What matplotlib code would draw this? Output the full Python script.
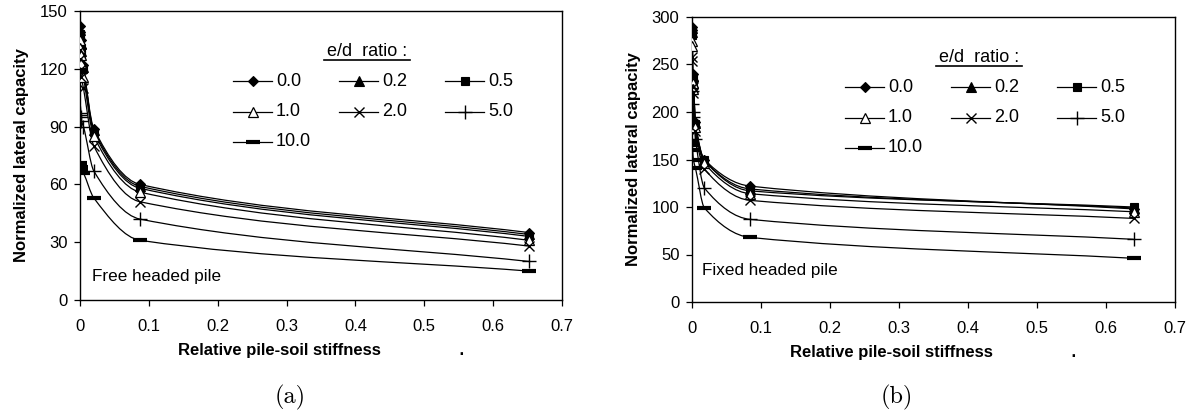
import numpy as np
import matplotlib
matplotlib.use('Agg')
import matplotlib.pyplot as plt
from matplotlib.path import Path
from matplotlib.patches import PathPatch
from matplotlib.lines import Line2D

plt.rcParams['font.family'] = ['Liberation Sans', 'DejaVu Sans']

# ---------------- data ----------------
ed_labels = ['0.0', '0.2', '0.5', '1.0', '2.0', '5.0', '10.0']

# (a) free headed pile
x_free = [0.0, 0.0005, 0.001, 0.002, 0.005, 0.02, 0.087, 0.652]
free_00 = [142, 139, 135, 131, 122, 89, 60, 35]
free_02 = [140, 137, 133, 129, 121, 88, 59, 34]
free_05 = [138, 135, 131, 127, 120, 87, 58, 33]
free_10 = [135, 131, 127, 123, 116, 85, 56, 31]
free_20 = [130, 125, 120, 116, 110, 80, 51, 28]
free_50 = [97, 96, 95, 93, 90, 67, 42, 20]
free_100 = [71, 70, 69, 68, 66, 53, 31, 15]

# (b) fixed headed pile
x_fixed = [0.0, 0.0005, 0.001, 0.002, 0.005, 0.018, 0.084, 0.64]
fixed_00 = [290, 286, 240, 233, 189, 150, 122, 98]
fixed_02 = [288, 284, 238, 231, 188, 149, 119, 99]
fixed_05 = [285, 281, 236, 229, 187, 149, 117, 100]
fixed_10 = [275, 270, 231, 224, 184, 146, 114, 95]
fixed_20 = [258, 254, 226, 220, 180, 140, 107, 88]
fixed_50 = [222, 208, 200, 195, 172, 120, 87, 66]
fixed_100 = [170, 165, 160, 150, 141, 99, 68, 46]

x_ticks = [0, 0.1, 0.2, 0.3, 0.4, 0.5, 0.6, 0.7]
x_tick_labels = ['0', '0.1', '0.2', '0.3', '0.4', '0.5', '0.6', '0.7']
y_ticks_free = [0, 30, 60, 90, 120, 150]
y_ticks_fixed = [0, 50, 100, 150, 200, 250, 300]

free_series = [free_00, free_02, free_05, free_10, free_20, free_50, free_100]
fixed_series = [fixed_00, fixed_02, fixed_05, fixed_10, fixed_20, fixed_50, fixed_100]

# ---------------- styles ----------------
styles = {
    '0.0': dict(marker='D', ms=5.5, mfc='k', mec='k', mew=0.8),
    '0.2': dict(marker='^', ms=6.5, mfc='k', mec='k', mew=0.8),
    '0.5': dict(marker='s', ms=5.5, mfc='k', mec='k', mew=0.8),
    '1.0': dict(marker='^', ms=6.5, mfc='white', mec='k', mew=0.9),
    '2.0': dict(marker='x', ms=7, mfc='k', mec='k', mew=1.0),
    '5.0': dict(marker='+', ms=10, mfc='k', mec='k', mew=1.0),
    '10.0': dict(marker='_', ms=10, mfc='k', mec='k', mew=3.0),
}


def tangent_slopes(x, y):
    x = np.asarray(x, float)
    y = np.asarray(y, float)
    d = np.diff(y) / np.diff(x)
    n = len(x)
    m = np.zeros(n)
    for k in range(1, n - 1):
        if d[k - 1] * d[k] > 0:
            m[k] = 2.0 / (1.0 / d[k - 1] + 1.0 / d[k])
    m[0] = d[0]
    m[-1] = d[-1]
    return m


def smooth_path(x, y):
    """Smooth line through the data points, drawn as cubic Bezier segments."""
    x = np.asarray(x, float)
    y = np.asarray(y, float)
    m = tangent_slopes(x, y)
    verts = [(x[0], y[0])]
    codes = [Path.MOVETO]
    for i in range(len(x) - 1):
        h = x[i + 1] - x[i]
        verts += [(x[i] + h / 3, y[i] + m[i] * h / 3),
                  (x[i + 1] - h / 3, y[i + 1] - m[i + 1] * h / 3),
                  (x[i + 1], y[i + 1])]
        codes += [Path.CURVE4] * 3
    return Path(verts, codes)


fig = plt.figure(figsize=(11.92, 4.16), dpi=100)
W, H = 1192, 416


def make_axes(px0, px1, py_top, py_bot):
    return fig.add_axes([px0 / W, 1 - py_bot / H, (px1 - px0) / W, (py_bot - py_top) / H])


ax1 = make_axes(80, 562, 11, 300)
ax2 = make_axes(692, 1175, 17, 302)

panels = [
    (ax1, x_free, free_series, y_ticks_free, 'Free headed pile', (80, 562, 11, 300), (92, 276)),
    (ax2, x_fixed, fixed_series, y_ticks_fixed, 'Fixed headed pile', (692, 1175, 17, 302), (702, 271)),
]

for ax, xs, series, yt, note, box, notepos in panels:
    px0, px1, pyt, pyb = box
    for lab, ys in zip(ed_labels, series):
        ax.add_patch(PathPatch(smooth_path(xs, ys), fill=False, ec='k', lw=0.9, zorder=2))
        ax.plot(xs, ys, ls='none', zorder=3, **styles[lab])
    ax.set_xlim(0, 0.7)
    ax.set_ylim(yt[0], yt[-1])
    ax.set_xticks(x_ticks)
    ax.set_xticklabels(x_tick_labels)
    ax.set_yticks(yt)
    ax.tick_params(axis='both', direction='out', length=4, width=0.9, labelsize=12, colors='k')
    ax.tick_params(axis='x', pad=10)
    ax.tick_params(axis='y', pad=5)
    for s in ax.spines.values():
        s.set_linewidth(1.0)
        s.set_color('k')
    ax.set_ylabel('Normalized lateral capacity', fontsize=12, fontweight='bold', labelpad=8)
    ax.set_xlabel('Relative pile-soil stiffness' + ' ' * 17 + '.', fontsize=12,
                  fontweight='bold', labelpad=6)

    def fx(px):
        return (px - px0) / (px1 - px0)

    def fy(py):
        return (pyb - py) / (pyb - pyt)

    ax.text(fx(notepos[0]), fy(notepos[1]), note, transform=ax.transAxes,
            fontsize=12.3, ha='left', va='center')

    # legend (Excel style, row-major, three columns)
    tcx = px0 + 287
    ax.text(fx(tcx), fy(pyt + 41), 'e/d  ratio :', transform=ax.transAxes,
            fontsize=13, ha='center', va='center')
    ax.add_line(Line2D([fx(tcx - 43), fx(tcx + 43)], [fy(pyt + 49), fy(pyt + 49)],
                       transform=ax.transAxes, color='k', lw=1.2))
    for i, lab in enumerate(ed_labels):
        r, c = divmod(i, 3)
        lx = px0 + 153 + c * 106
        ly = pyt + 70 + r * 30.5
        xs_leg = [fx(lx), fx(lx + 19.5), fx(lx + 39)]
        ys_leg = [fy(ly)] * 3
        ax.add_line(Line2D(xs_leg, ys_leg, transform=ax.transAxes, color='k', lw=0.9,
                           markevery=[1], **styles[lab]))
        ax.text(fx(lx + 43), fy(ly), lab, transform=ax.transAxes, fontsize=13,
                ha='left', va='center')

fig.text(290 / W, 1 - 397 / H, '(a)', fontfamily='cmr10', fontsize=17.5, ha='center', va='center')
fig.text(897 / W, 1 - 397 / H, '(b)', fontfamily='cmr10', fontsize=17.5, ha='center', va='center')

fig.savefig('out.png', dpi=100)
